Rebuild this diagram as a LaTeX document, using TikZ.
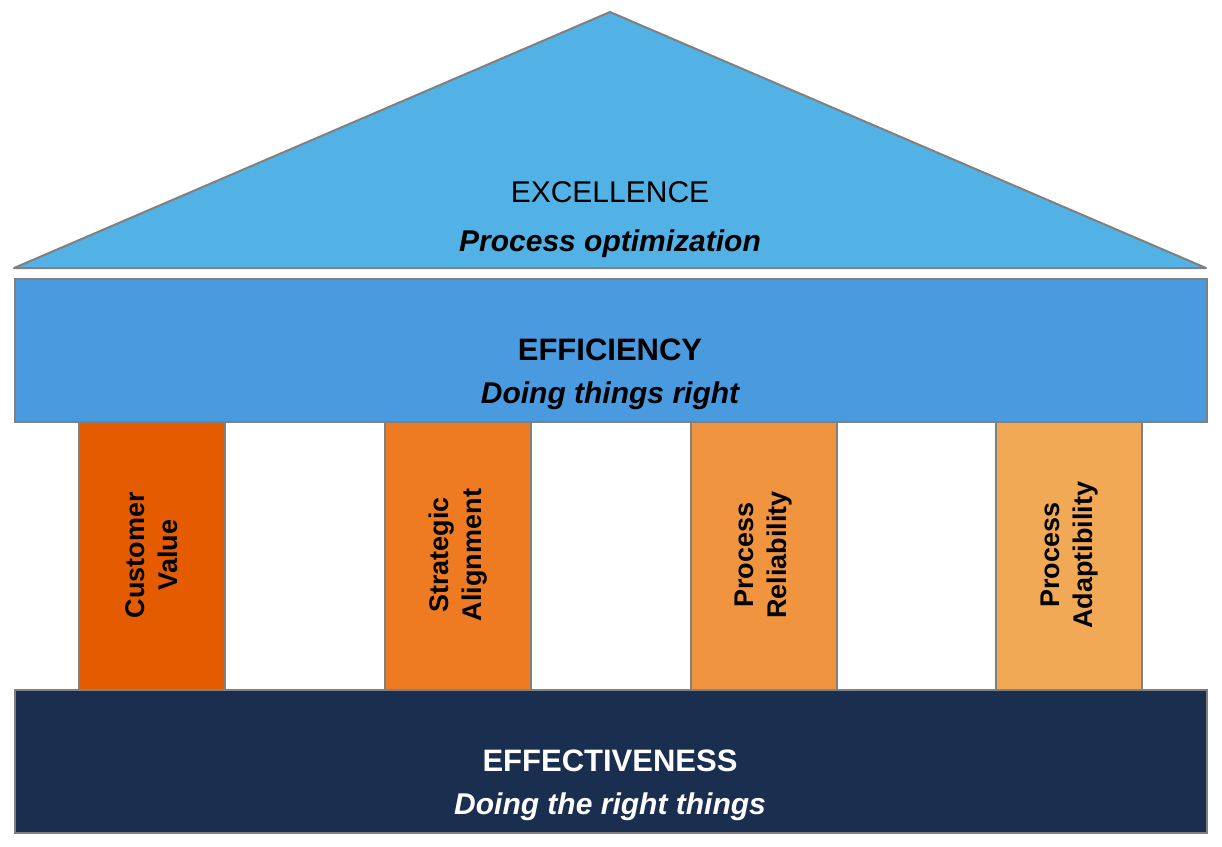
\documentclass[tikz,border=0pt]{standalone}
\usepackage{fontspec}
\setmainfont{Liberation Sans}
\usetikzlibrary{positioning}

\definecolor{roofblue}{HTML}{52B2E5}
\definecolor{beamblue}{HTML}{4A9AE0}
\definecolor{baseblue}{HTML}{1A2E50}
\definecolor{edgegray}{HTML}{808080}
\definecolor{pillarA}{HTML}{E55C00}
\definecolor{pillarB}{HTML}{EE7A22}
\definecolor{pillarC}{HTML}{F09440}
\definecolor{pillarD}{HTML}{F2A955}

\begin{document}
\begin{tikzpicture}[x=1pt,y=-1pt]
\tikzstyle{slab}=[rectangle,draw=edgegray,line width=2pt,inner sep=0pt,anchor=north west,minimum width=1192pt,minimum height=143pt]
\tikzstyle{pillar}=[rectangle,draw=edgegray,line width=2pt,inner sep=0pt,anchor=north west,minimum width=146pt,minimum height=268pt]
\tikzstyle{pillartext}=[rotate=90,align=center,font=\fontsize{27}{33}\selectfont\bfseries]
\tikzstyle{title}=[anchor=base,font=\fontsize{31}{36}\selectfont]
\useasboundingbox (0,0) rectangle (1222,846);
% roof
\draw[fill=roofblue,draw=edgegray,line width=2pt,line join=round] (14,268) -- (610,12) -- (1206,268) -- cycle;
\node[title,font=\fontsize{30}{36}\selectfont] (excellence) at (610,202) {EXCELLENCE};
\node[title,font=\fontsize{30}{36}\selectfont\bfseries\itshape] (excsub) at (610,251) {Process optimization};
% pillars
\node[pillar,fill=pillarA] (custval) at (78,421) {};
\node[pillar,fill=pillarB] (stratal) at (384,421) {};
\node[pillar,fill=pillarC] (procrel) at (690,421) {};
\node[pillar,fill=pillarD] (procadp) at (995,421) {};
\node[pillartext] (custtext) at ([yshift=1pt]custval.center) {Customer\\Value};
\node[pillartext] (strattext) at ([yshift=1pt]stratal.center) {Strategic\\Alignment};
\node[pillartext] (reltext) at ([yshift=1pt]procrel.center) {Process\\Reliability};
\node[pillartext] (adptext) at ([yshift=1pt]procadp.center) {Process\\Adaptibility};
% beam and base
\node[slab,fill=beamblue] (efficiency) at (14,278) {};
\node[slab,fill=baseblue] (effective) at (14,689) {};
\node[title,font=\fontsize{31}{36}\selectfont\bfseries] (effname) at (610,360) {EFFICIENCY};
\node[title,font=\fontsize{30}{36}\selectfont\bfseries\itshape] (effsub) at (610,403) {Doing things right};
\node[title,text=white,font=\fontsize{31}{36}\selectfont\bfseries] (effvname) at (610,771) {EFFECTIVENESS};
\node[title,text=white,font=\fontsize{30}{36}\selectfont\bfseries\itshape] (effvsub) at (610,814) {Doing the right things};
\end{tikzpicture}
\end{document}
